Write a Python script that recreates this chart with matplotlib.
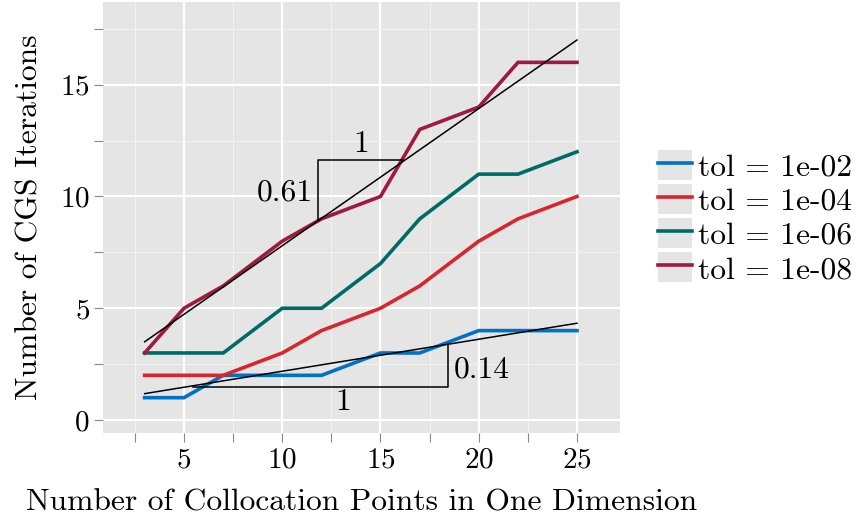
import matplotlib
matplotlib.use("Agg")
import matplotlib.pyplot as plt
from matplotlib.lines import Line2D
from matplotlib.patches import Patch
from matplotlib.ticker import MultipleLocator

plt.rcParams['font.family'] = ['cmr10', 'DejaVu Serif']
plt.rcParams['mathtext.fontset'] = 'cm'
plt.rcParams['axes.formatter.use_mathtext'] = True

# ---- data ----
points = [3, 5, 7, 10, 12, 15, 17, 20, 22, 25]
tol_1e02 = [1, 1, 2, 2, 2, 3, 3, 4, 4, 4]
tol_1e04 = [2, 2, 2, 3, 4, 5, 6, 8, 9, 10]
tol_1e06 = [3, 3, 3, 5, 5, 7, 9, 11, 11, 12]
tol_1e08 = [3, 5, 6, 8, 9, 10, 13, 14, 16, 16]
labels = ["tol = 1e-02", "tol = 1e-04", "tol = 1e-06", "tol = 1e-08"]
colors = ["#0072C6", "#D7262C", "#006B66", "#A01A3D"]

fit_x = [3, 25]
fit_upper = [3.5, 17.0]
fit_lower = [1.18, 4.33]

tri_upper_x = [11.82, 11.82, 16.15]
tri_upper_y = [8.92, 11.62, 11.62]
tri_lower_x = [5.45, 18.43, 18.43]
tri_lower_y = [1.5, 1.5, 3.36]
slope_labels = ["1", "0.61", "0.14", "1"]

FS_TICK = 21
FS = 22.7
fig = plt.figure(figsize=(8.55, 5.22), dpi=100)
ax = fig.add_axes([103/855, 1-433/522, (620-103)/855, (433-2)/522])
ax.set_facecolor('#E5E5E5')
for s in ax.spines.values():
    s.set_visible(False)

ax.set_xlim(0.88, 27.19)
ax.set_ylim(-0.58, 18.7)
ax.xaxis.set_major_locator(MultipleLocator(5))
ax.xaxis.set_minor_locator(MultipleLocator(2.5))
ax.yaxis.set_major_locator(MultipleLocator(5))
ax.yaxis.set_minor_locator(MultipleLocator(2.5))
ax.grid(which='major', color='white', linewidth=1.6)
ax.grid(which='minor', color='#F2F2F2', linewidth=0.8)
ax.set_axisbelow(True)
ax.tick_params(which='both', direction='out', length=6.5, width=0.8,
               color='#888888', labelsize=FS_TICK, pad=4)
ax.tick_params(axis='y', which='both', pad=3)

series = [tol_1e02, tol_1e04, tol_1e06, tol_1e08]
for ys, c in zip(series, colors):
    ax.plot(points, ys, color=c, linewidth=2.6, solid_joinstyle='miter')

ax.plot(fit_x, fit_upper, color='black', linewidth=1.1)
ax.plot(fit_x, fit_lower, color='black', linewidth=1.1)
ax.plot(tri_upper_x, tri_upper_y, color='black', linewidth=1.1)
ax.plot(tri_lower_x, tri_lower_y, color='black', linewidth=1.1)

ax.text(14.0, 12.35, slope_labels[0], fontsize=FS, ha='center', va='center')
ax.text(11.55, 10.15, slope_labels[1], fontsize=FS, ha='right', va='center')
ax.text(18.75, 2.25, slope_labels[2], fontsize=FS, ha='left', va='center')
ax.text(13.1, 0.8, slope_labels[3], fontsize=FS, ha='center', va='center')

ax.set_xlabel("Number of Collocation Points in One Dimension", fontsize=FS, labelpad=11)
ax.set_ylabel("Number of CGS Iterations", fontsize=FS, labelpad=12)

handles = [(Patch(facecolor='#E5E5E5', edgecolor='none'),
            Line2D([0], [0], color=c, linewidth=2.6)) for c in colors]
leg = fig.legend(handles, labels, loc='center left', bbox_to_anchor=(658/855, 1-217/522),
                 frameon=False, fontsize=FS, handlelength=1.08, handleheight=1.08,
                 handletextpad=0.2, labelspacing=0.08, borderaxespad=0, borderpad=0)

fig.savefig("out.png", dpi=100)
